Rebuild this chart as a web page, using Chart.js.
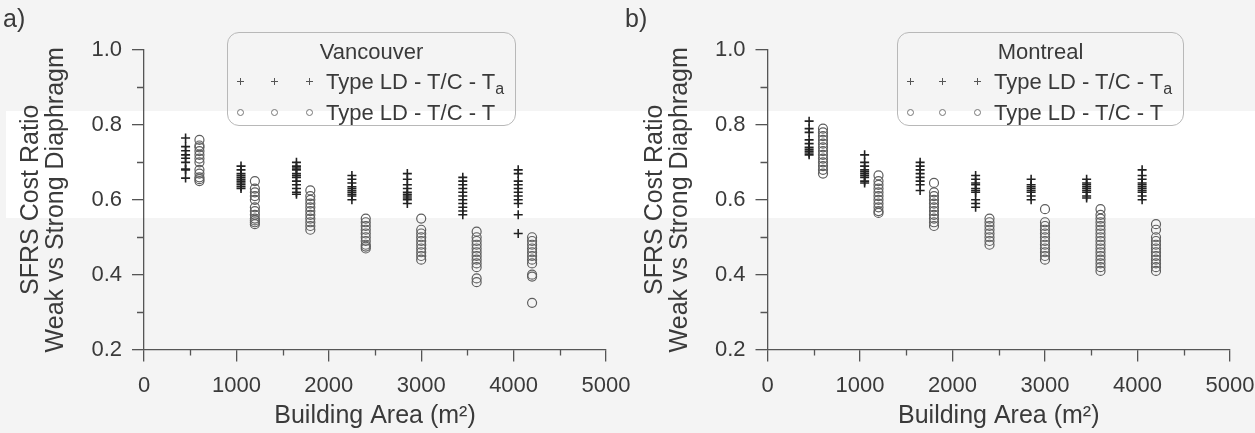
<!DOCTYPE html>
<html>
<head>
<meta charset="utf-8">
<script src="https://cdn.jsdelivr.net/npm/chart.js@4.4.0/dist/chart.umd.min.js"></script>
<style>
  html, body { margin: 0; padding: 0; }
  body {
    width: 1255px; height: 433px; position: relative; overflow: hidden;
    background: #f4f4f4; color: #3a3a3a;
    font-family: "Liberation Sans", Arial, sans-serif;
  }
  .band { position: absolute; left: 6px; top: 111px; width: 1249px; height: 107px; background: #fff; }
  canvas { position: absolute; top: 0; }
  .tag { position: absolute; top: 4px; font-size: 25px; }
  .legend {
    position: absolute; top: 32px; height: 94px; box-sizing: border-box;
    border: 1px solid #b8b8b8; border-radius: 12px;
  }
  .legend .ttl { position: absolute; left: 0; right: 0; top: 6px; text-align: center; font-size: 22px; }
  .legend .row { position: absolute; left: 0; right: 0; height: 24px; }
  .legend .txt { position: absolute; left: 98px; top: 0; font-size: 22px; line-height: 24px; white-space: nowrap; }
  .legend .txt sub { font-size: 16px; vertical-align: -5px; line-height: 0; }
  .plus, .ring { position: absolute; top: 8px; width: 7px; height: 7px; }
  .plus::before, .plus::after { content: ""; position: absolute; background: #555; }
  .plus::before { left: 3px; top: 0; width: 1px; height: 7px; }
  .plus::after { left: 0; top: 3px; width: 7px; height: 1px; }
  .ring { border: 1px solid #777; border-radius: 50%; box-sizing: border-box; }
</style>
</head>
<body>
<div class="band"></div>
<canvas id="chartA" width="645" height="433" style="left:0"></canvas>
<canvas id="chartB" width="635" height="433" style="left:620px"></canvas>
<div class="tag" style="left:3px">a)</div>
<div class="tag" style="left:625px">b)</div>

<div class="legend" style="left:227px; width:289px">
  <div class="ttl">Vancouver</div>
  <div class="row" style="top:37px">
    <span class="plus" style="left:9px"></span><span class="plus" style="left:43px"></span><span class="plus" style="left:78px"></span>
    <span class="txt">Type LD - T/C - T<sub>a</sub></span>
  </div>
  <div class="row" style="top:68px">
    <span class="ring" style="left:9px"></span><span class="ring" style="left:43px"></span><span class="ring" style="left:78px"></span>
    <span class="txt">Type LD - T/C - T</span>
  </div>
</div>
<div class="legend" style="left:897px; width:287px">
  <div class="ttl">Montreal</div>
  <div class="row" style="top:37px">
    <span class="plus" style="left:9px"></span><span class="plus" style="left:41px"></span><span class="plus" style="left:76px"></span>
    <span class="txt" style="left:96px">Type LD - T/C - T<sub>a</sub></span>
  </div>
  <div class="row" style="top:68px">
    <span class="ring" style="left:9px"></span><span class="ring" style="left:41px"></span><span class="ring" style="left:76px"></span>
    <span class="txt" style="left:96px">Type LD - T/C - T</span>
  </div>
</div>

<script>
// building areas (m2) for the two series
const plusAreas = [450, 1050, 1650, 2250, 2850, 3450, 4050];
const circleAreas = [600, 1200, 1800, 2400, 3000, 3600, 4200];

// Vancouver, Type LD - T/C - Ta
const vanTa = [
  [0.765, 0.742, 0.731, 0.72, 0.711, 0.70, 0.682, 0.68, 0.658],
  [0.69, 0.68, 0.67, 0.665, 0.66, 0.655, 0.65, 0.645, 0.64, 0.635, 0.63],
  [0.70, 0.69, 0.685, 0.68, 0.67, 0.665, 0.66, 0.65, 0.64, 0.63, 0.62, 0.615],
  [0.665, 0.655, 0.645, 0.635, 0.63, 0.625, 0.62, 0.615, 0.61, 0.60],
  [0.67, 0.655, 0.64, 0.63, 0.62, 0.615, 0.61, 0.605, 0.60, 0.59],
  [0.66, 0.65, 0.64, 0.63, 0.62, 0.61, 0.60, 0.59, 0.58, 0.57, 0.56],
  [0.68, 0.67, 0.65, 0.64, 0.63, 0.62, 0.61, 0.60, 0.59, 0.56, 0.51]
];
// Vancouver, Type LD - T/C - T
const vanT = [
  [0.76, 0.745, 0.74, 0.73, 0.72, 0.71, 0.70, 0.68, 0.67, 0.66, 0.655, 0.65],
  [0.65, 0.63, 0.62, 0.61, 0.60, 0.58, 0.57, 0.56, 0.55, 0.545, 0.54, 0.535],
  [0.625, 0.61, 0.60, 0.59, 0.58, 0.57, 0.56, 0.55, 0.54, 0.53, 0.52],
  [0.55, 0.54, 0.53, 0.52, 0.51, 0.50, 0.49, 0.48, 0.475, 0.47],
  [0.55, 0.52, 0.51, 0.50, 0.49, 0.48, 0.47, 0.46, 0.45, 0.44],
  [0.515, 0.50, 0.49, 0.48, 0.47, 0.46, 0.45, 0.44, 0.43, 0.42, 0.39, 0.38],
  [0.50, 0.49, 0.48, 0.47, 0.46, 0.45, 0.44, 0.43, 0.40, 0.395, 0.325]
];
// Montreal, Type LD - T/C - Ta
const monTa = [
  [0.81, 0.79, 0.78, 0.76, 0.75, 0.74, 0.735, 0.73, 0.725, 0.72],
  [0.72, 0.70, 0.69, 0.68, 0.675, 0.67, 0.665, 0.66, 0.65, 0.645],
  [0.70, 0.69, 0.68, 0.67, 0.66, 0.65, 0.64, 0.625],
  [0.665, 0.655, 0.645, 0.64, 0.63, 0.625, 0.62, 0.60, 0.59, 0.58],
  [0.655, 0.64, 0.635, 0.63, 0.625, 0.62, 0.61, 0.60],
  [0.655, 0.645, 0.64, 0.635, 0.63, 0.625, 0.62, 0.61, 0.605],
  [0.68, 0.665, 0.655, 0.645, 0.64, 0.635, 0.63, 0.625, 0.62, 0.61, 0.60]
];
// Montreal, Type LD - T/C - T
const monT = [
  [0.79, 0.78, 0.77, 0.76, 0.75, 0.74, 0.73, 0.72, 0.71, 0.70, 0.69, 0.68, 0.67],
  [0.665, 0.65, 0.64, 0.63, 0.62, 0.61, 0.60, 0.59, 0.58, 0.57, 0.565],
  [0.645, 0.62, 0.61, 0.60, 0.59, 0.58, 0.57, 0.56, 0.55, 0.54, 0.53],
  [0.55, 0.54, 0.53, 0.52, 0.51, 0.50, 0.49, 0.48],
  [0.575, 0.54, 0.53, 0.52, 0.51, 0.50, 0.49, 0.48, 0.47, 0.46, 0.45, 0.44],
  [0.575, 0.56, 0.55, 0.54, 0.53, 0.52, 0.51, 0.50, 0.49, 0.48, 0.47, 0.46, 0.45, 0.44, 0.43, 0.42, 0.41],
  [0.535, 0.52, 0.50, 0.49, 0.48, 0.47, 0.46, 0.45, 0.44, 0.43, 0.42, 0.41]
];

const minorX = [500, 1500, 2500, 3500, 4500];
const minorY = [0.3, 0.5, 0.7, 0.9];

const ink = '#3a3a3a';
const axisCol = '#555';
const fontName = '"Liberation Sans", Arial, sans-serif';

function toPoints(areas, groups) {
  const pts = [];
  groups.forEach((vals, i) => vals.forEach(v => pts.push({ x: areas[i], y: v })));
  return pts;
}

// short ticks between the labelled ones
const minorTicks = {
  id: 'minorTicks',
  afterDraw(chart) {
    const { ctx, scales: { x, y } } = chart;
    ctx.save();
    ctx.strokeStyle = axisCol;
    ctx.lineWidth = 1.3;
    ctx.beginPath();
    minorX.forEach(v => {
      const px = Math.round(x.getPixelForValue(v)) + 0.5;
      ctx.moveTo(px, x.top);
      ctx.lineTo(px, x.top + 6);
    });
    minorY.forEach(v => {
      const py = Math.round(y.getPixelForValue(v)) + 0.5;
      ctx.moveTo(y.right - 7, py);
      ctx.lineTo(y.right, py);
    });
    ctx.stroke();
    ctx.restore();
  }
};

function makeChart(id, taVals, tVals, leftWidth, rightPad, titlePad) {
  const ctx = document.getElementById(id).getContext('2d');
  return new Chart(ctx, {
    type: 'scatter',
    data: {
      datasets: [
        {
          label: 'Type LD - T/C - Ta',
          data: toPoints(plusAreas, taVals),
          pointStyle: 'cross',
          pointRadius: 4.5,
          borderColor: '#222',
          backgroundColor: 'transparent',
          borderWidth: 1.6
        },
        {
          label: 'Type LD - T/C - T',
          data: toPoints(circleAreas, tVals),
          pointStyle: 'circle',
          pointRadius: 4.5,
          borderColor: '#5e5e5e',
          backgroundColor: 'transparent',
          borderWidth: 1.2
        }
      ]
    },
    options: {
      responsive: false,
      animation: false,
      layout: { padding: { top: 50, right: rightPad, bottom: 0, left: 0 } },
      plugins: { legend: { display: false }, tooltip: { enabled: false } },
      scales: {
        x: {
          type: 'linear', min: 0, max: 5000,
          ticks: { stepSize: 1000, maxRotation: 0, padding: 11, color: ink,
                   font: { family: fontName, size: 22 }, callback: v => String(v) },
          grid: { drawOnChartArea: false, tickLength: 12, color: axisCol, lineWidth: 1.3 },
          border: { color: axisCol, width: 1.3 },
          title: { display: true, text: 'Building Area (m²)', color: ink,
                   font: { family: fontName, size: 25 }, padding: { top: 0, bottom: 2 } },
          afterFit: s => { s.height = 83.4; s.paddingLeft = 0; s.paddingRight = 0; }
        },
        y: {
          min: 0.2, max: 1.0,
          ticks: { stepSize: 0.2, padding: 10, color: ink,
                   font: { family: fontName, size: 22 }, callback: v => v.toFixed(1) },
          grid: { drawOnChartArea: false, tickLength: 12, color: axisCol, lineWidth: 1.3 },
          border: { color: axisCol, width: 1.3 },
          title: { display: true, text: ['SFRS Cost Ratio', 'Weak vs Strong Diaphragm'], color: ink,
                   font: { family: fontName, size: 25, lineHeight: 1.0 }, padding: { top: titlePad, bottom: 0 } },
          afterFit: s => { s.width = leftWidth; s.paddingTop = 0; s.paddingBottom = 0; }
        }
      }
    },
    plugins: [minorTicks]
  });
}

document.addEventListener('DOMContentLoaded', function () {
  makeChart('chartA', vanTa, vanT, 144, 39, 19);
  makeChart('chartB', monTa, monT, 147.5, 25, 23);
});
</script>
</body>
</html>
